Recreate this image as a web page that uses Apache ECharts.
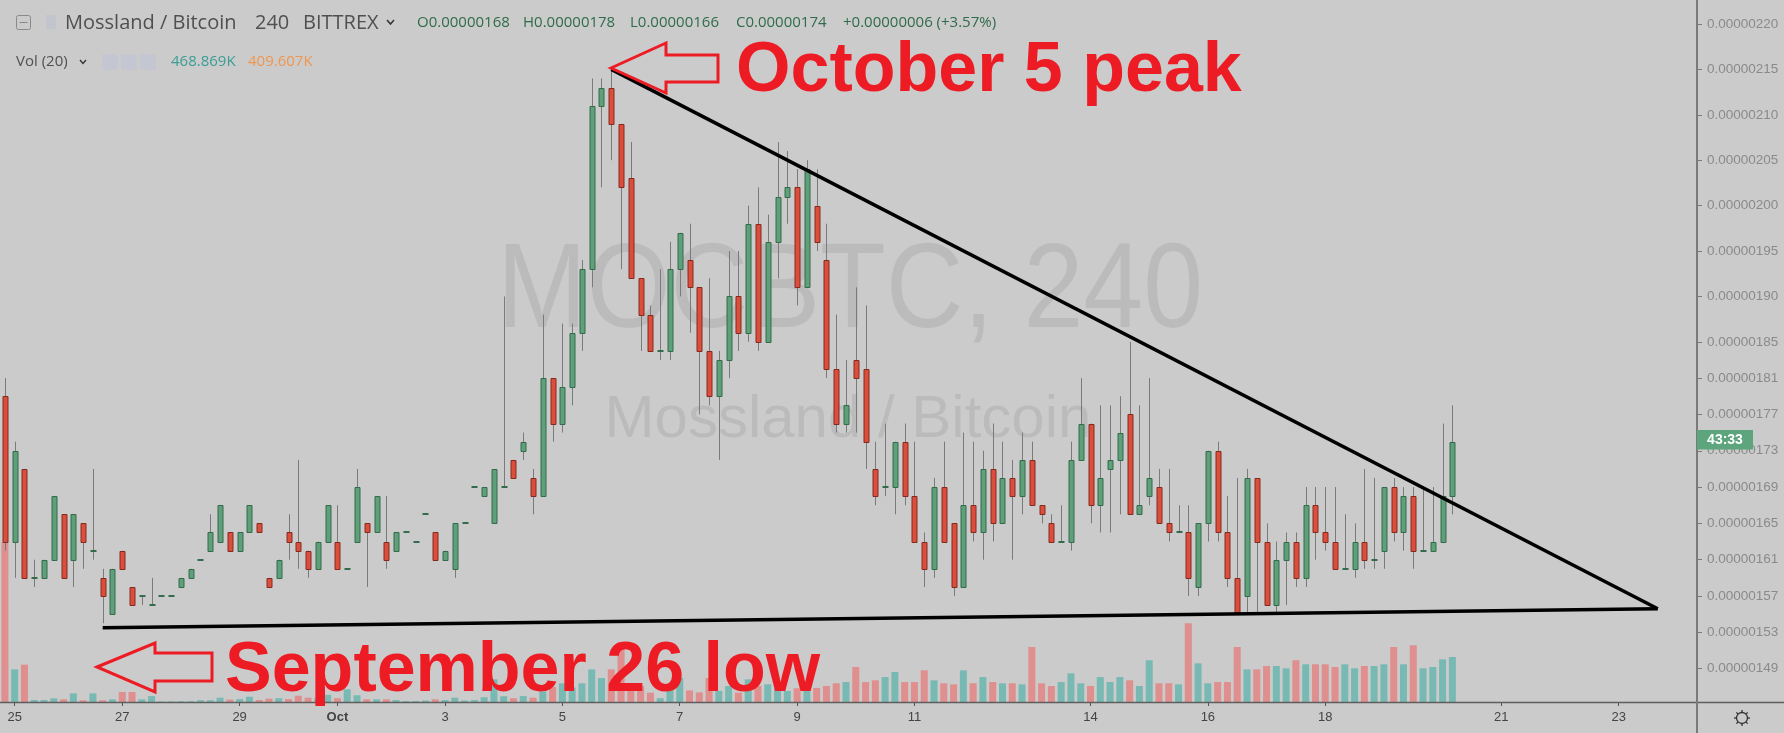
<!DOCTYPE html>
<html><head><meta charset="utf-8">
<script src="https://cdn.jsdelivr.net/npm/echarts@6/dist/echarts.min.js"></script>
<style>html,body{margin:0;padding:0;background:#cbcbcb;overflow:hidden}#c{width:1784px;height:733px}</style>
</head><body><div id="c"></div>
<script>
// ---- data (prices in satoshi, 1e-8 BTC; volume in K) ----
const openP = [179,163,171,159,159,161,166,161,165,162, 159,155,162,158,157,156,157,157,158,159, 161,162,163,164,162,164,165,159,159,164, 163,162,160,163,163,160,163,165,164,163, 162,164,163,166,164,161,160,165,169,168, 165,169,172,173,170,168,181,176,180,186, 193,211,213,209,203,192,188,184,184,193, 194,191,184,179,183,190,186,198,185,196, 201,202,191,200,194,182,176,183,182,171, 169,169,174,168,163,160,169,165,158,167, 164,171,165,170,168,172,167,165,163,163, 172,176,167,171,172,177,166,168,169,165, 164,164,158,165,173,164,159,157,170,163, 156,161,163,159,167,164,163,160,160,163, 161,162,169,164,168,162,162,163,168];
const highP = [181,174,171,161,161,168,166,166,165,171, 160,160,162,158,157,159,157,157,159,160, 161,166,167,164,164,167,165,159,161,166, 172,162,163,167,167,160,171,165,168,168, 164,164,163,166,164,162,165,165,169,169, 171,190,172,175,171,188,181,187,187,194, 214,214,215,209,207,192,189,193,196,197, 198,191,192,184,195,195,200,202,199,207, 206,204,205,204,198,188,183,191,189,174, 176,174,176,174,164,170,174,165,175,174, 173,176,174,172,175,174,167,166,167,174, 181,176,178,178,179,185,178,181,171,171, 167,167,165,173,174,168,170,171,170,165, 163,164,164,169,169,169,169,166,165,171, 170,169,170,169,169,169,169,176,178];
const lowP = [162,159,159,158,159,161,159,158,160,161, 154,155,160,156,156,156,157,157,158,159, 161,162,163,162,162,164,164,158,159,161, 160,159,160,163,160,160,163,158,164,160, 162,164,163,166,161,161,159,165,169,168, 165,169,170,172,166,168,174,175,178,184, 191,202,205,193,192,184,184,183,183,190, 186,177,178,172,181,184,185,184,185,192, 198,189,191,195,181,175,175,175,171,167, 168,166,167,163,158,159,163,157,158,163, 161,163,165,161,166,167,165,163,163,162, 172,165,164,164,166,166,166,167,165,163, 164,157,157,163,163,158,155,155,155,156, 155,156,158,158,161,162,160,160,159,160, 160,160,163,162,160,162,162,163,166];
const closeP = [163,173,159,159,161,168,159,166,163,162, 157,160,160,156,157,156,157,157,159,160, 161,164,167,162,164,167,164,158,161,163, 162,160,163,167,160,160,169,164,168,161, 164,164,163,166,161,162,165,165,169,169, 171,169,170,174,168,181,176,180,186,193, 211,213,209,202,192,188,184,184,193,197, 191,184,179,183,190,186,198,185,196,201, 202,191,204,196,182,176,178,181,174,168, 169,174,168,163,160,169,163,158,167,164, 171,165,170,168,172,167,166,163,163,172, 176,167,170,172,175,166,167,170,165,164, 164,159,165,173,164,159,155,170,163,156, 161,163,159,167,164,163,160,160,163,161, 161,169,164,168,162,162,163,168,174];
const volumeK = [1667,340,389,21,21,38,28,90,18,90, 18,28,104,104,28,62,6,6,8,8, 18,18,45,25,30,55,20,35,40,30, 65,45,40,75,40,132,70,28,28,28, 20,10,10,15,28,20,45,15,20,50, 236,60,40,62,45,110,156,195,150,195, 340,250,340,625,167,167,97,40,143,250, 120,100,250,115,167,97,236,167,184,156, 115,143,219,146,167,195,208,365,208,226, 260,313,208,208,330,226,195,184,330,195, 260,208,195,195,184,573,195,167,208,299, 195,167,260,208,260,226,167,435,195,195, 184,820,403,195,208,208,573,340,340,375, 375,351,435,393,393,393,365,393,351,375, 375,393,573,393,591,351,365,445,469];
const futureSlots = 24;
const categories = Array.from({length: openP.length + futureSlots}, (_, i) => String(i));
const dateTicks = [[1,'25'],[12,'27'],[24,'29'],[34,'Oct'],[45,'3'],[57,'5'],[69,'7'],[81,'9'],[93,'11'],[111,'14'],[123,'16'],[135,'18'],[153,'21'],[165,'23']];
const priceTicks = [220,215,210,205,200,195,190,185,181,177,173,169,165,161,157,153,149];
const trendUpper = [[62,215],[169,155.6]];
const trendLower = [[10,153.5],[169,155.6]];
const legend = {title:'Mossland / Bitcoin', tf:'240', ex:'BITTREX', o:'O0.00000168', h:'H0.00000178', l:'L0.00000166', c:'C0.00000174', chg:'+0.00000006 (+3.57%)', vol:'Vol (20)', v1:'468.869K', v2:'409.607K', timer:'43:33'};

const dateMap = {}; dateTicks.forEach(([i, t]) => dateMap[i] = t);
const BG = '#cbcbcb';
const UP = '#5f9f79', UPB = '#336b4b', DN = '#db4e3b', DNB = '#842b20', WICK = '#7a7a7a';
const VUP = '#79b9b3', VDN = '#de8f8e';

const candleData = openP.map((o, i) => [i, o, closeP[i], lowP[i], highP[i]]);

function renderCandle(params, api) {
  const i = api.value(0), o = api.value(1), c = api.value(2), l = api.value(3), h = api.value(4);
  const po = api.coord([i, o]), pc = api.coord([i, c]), pl = api.coord([i, l]), ph = api.coord([i, h]);
  const x = Math.round(po[0]);
  const up = c >= o;
  const top = Math.round(Math.min(po[1], pc[1])), bot = Math.round(Math.max(po[1], pc[1]));
  const ch = [];
  if (pl[1] - ph[1] > 0.5) ch.push({type: 'line', shape: {x1: x + 0.5, y1: ph[1], x2: x + 0.5, y2: pl[1]}, style: {stroke: WICK, lineWidth: 1}});
  if (bot - top < 1) {
    ch.push({type: 'rect', shape: {x: x - 2.5, y: top - 1, width: 6, height: 2}, style: {fill: up ? UPB : DNB}});
  } else {
    ch.push({type: 'rect', shape: {x: x - 2, y: top + 0.5, width: 5, height: bot - top}, style: {fill: up ? UP : DN, stroke: up ? UPB : DNB, lineWidth: 1}});
  }
  return {type: 'group', children: ch};
}

const RED = '#ed1c24';
function arrow(pts) { return {type: 'polygon', z: 60, shape: {points: pts}, style: {fill: 'none', stroke: RED, lineWidth: 3, lineJoin: 'miter'}}; }

const graphics = [
  // watermark
  {type: 'text', z: 0, x: 850, y: 294, scaleX: 0.89, style: {text: 'MOCBTC, 240', font: '121px "Liberation Sans"', fill: 'rgba(0,0,0,0.08)', align: 'center', verticalAlign: 'middle'}},
  {type: 'text', z: 0, x: 848, y: 420, style: {text: 'Mossland / Bitcoin', font: '60px "Liberation Sans"', fill: 'rgba(0,0,0,0.08)', align: 'center', verticalAlign: 'middle'}},
  // frame lines
  {type: 'line', z: 50, shape: {x1: 0, y1: 702.5, x2: 1784, y2: 702.5}, style: {stroke: '#5e5e5e', lineWidth: 1.5}},
  {type: 'line', z: 50, shape: {x1: 1697, y1: 0, x2: 1697, y2: 733}, style: {stroke: '#7a7a7a', lineWidth: 2}},
  // gear
  {type: 'circle', z: 50, shape: {cx: 1742, cy: 718, r: 5.5}, style: {fill: 'none', stroke: '#333', lineWidth: 1.3}},
  ...[0,1,2,3,4,5,6,7].map(k => { const a = k * Math.PI / 4; return {type: 'line', z: 50, shape: {x1: 1742 + Math.cos(a) * 5.5, y1: 718 + Math.sin(a) * 5.5, x2: 1742 + Math.cos(a) * 8, y2: 718 + Math.sin(a) * 8}, style: {stroke: '#333', lineWidth: 1.3}}; }),
  // countdown badge
  {type: 'rect', z: 70, shape: {x: 1697, y: 430, width: 56, height: 19.5}, style: {fill: '#5da57c'}},
  {type: 'text', z: 71, x: 1725, y: 440, style: {text: legend.timer, font: 'bold 14px "Liberation Sans"', fill: '#ffffff', align: 'center', verticalAlign: 'middle'}},
  // header row 1
  {type: 'rect', z: 50, shape: {x: 16.5, y: 15.5, width: 14, height: 14, r: 2}, style: {fill: 'none', stroke: '#8a8a8a', lineWidth: 1}},
  {type: 'line', z: 50, shape: {x1: 19.5, y1: 22.5, x2: 27.5, y2: 22.5}, style: {stroke: '#8a8a8a', lineWidth: 1}},
  {type: 'rect', z: 50, shape: {x: 46, y: 15, width: 10, height: 14}, style: {fill: '#c2c5ce'}},
  {type: 'text', z: 50, x: 65, y: 23, style: {text: legend.title, font: '20px "Open Sans"', fill: '#505050', verticalAlign: 'middle'}},
  {type: 'text', z: 50, x: 255, y: 23, style: {text: legend.tf, font: '20px "Open Sans"', fill: '#505050', verticalAlign: 'middle'}},
  {type: 'text', z: 50, x: 303, y: 23, style: {text: legend.ex, font: '20px "Open Sans"', fill: '#505050', verticalAlign: 'middle'}},
  {type: 'polyline', z: 50, shape: {points: [[387, 20], [390.5, 24], [394, 20]]}, style: {stroke: '#333', lineWidth: 1.5, fill: 'none'}},
  {type: 'text', z: 50, x: 417, y: 23, style: {text: legend.o, font: '15px "Open Sans"', fill: '#2f6c4b', verticalAlign: 'middle'}},
  {type: 'text', z: 50, x: 523, y: 23, style: {text: legend.h, font: '15px "Open Sans"', fill: '#2f6c4b', verticalAlign: 'middle'}},
  {type: 'text', z: 50, x: 630, y: 23, style: {text: legend.l, font: '15px "Open Sans"', fill: '#2f6c4b', verticalAlign: 'middle'}},
  {type: 'text', z: 50, x: 736, y: 23, style: {text: legend.c, font: '15px "Open Sans"', fill: '#2f6c4b', verticalAlign: 'middle'}},
  {type: 'text', z: 50, x: 843, y: 23, style: {text: legend.chg, font: '15px "Open Sans"', fill: '#2f6c4b', verticalAlign: 'middle'}},
  // header row 2
  {type: 'text', z: 50, x: 16, y: 62, style: {text: legend.vol, font: '15px "Open Sans"', fill: '#505050', verticalAlign: 'middle'}},
  {type: 'polyline', z: 50, shape: {points: [[80, 60], [83, 63.5], [86, 60]]}, style: {stroke: '#333', lineWidth: 1.3, fill: 'none'}},
  {type: 'rect', z: 50, shape: {x: 102, y: 54, width: 16, height: 16, r: 2}, style: {fill: '#c4c7d1'}},
  {type: 'rect', z: 50, shape: {x: 121, y: 54, width: 16, height: 16, r: 2}, style: {fill: '#c4c7d1'}},
  {type: 'rect', z: 50, shape: {x: 140, y: 54, width: 16, height: 16, r: 2}, style: {fill: '#c4c7d1'}},
  {type: 'text', z: 50, x: 171, y: 62, style: {text: legend.v1, font: '15px "Open Sans"', fill: '#3a9e93', verticalAlign: 'middle'}},
  {type: 'text', z: 50, x: 248, y: 62, style: {text: legend.v2, font: '15px "Open Sans"', fill: '#f0964f', verticalAlign: 'middle'}},
  // annotations
  arrow([[611, 68], [666, 43], [666, 55], [718, 55], [718, 82], [666, 82], [666, 93]]),
  {type: 'text', z: 60, x: 736, y: 72, style: {text: 'October 5 peak', font: 'bold 70px "Liberation Sans"', fill: RED, verticalAlign: 'middle'}},
  arrow([[97, 667], [155, 643], [155, 653], [212, 653], [212, 681], [155, 681], [155, 692]]),
  {type: 'text', z: 60, x: 225, y: 672, style: {text: 'September 26 low', font: 'bold 70px "Liberation Sans"', fill: RED, verticalAlign: 'middle'}}
];

const chart = echarts.init(document.getElementById('c'), null, {renderer: 'canvas'});
chart.setOption({
  backgroundColor: BG,
  animation: false,
  grid: {left: 0, top: 0, width: 1692, height: 702, containLabel: false},
  xAxis: {
    type: 'category', data: categories, boundaryGap: true,
    axisLine: {show: false},
    axisTick: {show: true, alignWithLabel: true, length: 4, interval: (idx) => dateMap[idx] !== undefined, lineStyle: {color: '#555'}},
    axisLabel: {
      interval: (idx) => dateMap[idx] !== undefined, margin: 9, color: '#444', fontSize: 13, fontFamily: '"Liberation Sans"',
      formatter: (v) => { const t = dateMap[+v]; return t === 'Oct' ? '{b|Oct}' : (t || ''); },
      rich: {b: {fontWeight: 'bold', fontSize: 13, color: '#444', fontFamily: '"Liberation Sans"'}}
    },
    splitLine: {show: false}
  },
  yAxis: [
    {
      type: 'value', position: 'right', offset: 5, min: 145.33, max: 222.643, scale: true,
      axisLine: {show: false},
      axisTick: {show: true, length: 5, customValues: priceTicks, lineStyle: {color: '#7a7a7a'}},
      axisLabel: {customValues: priceTicks, margin: 10, color: '#8a8a8a', fontSize: 13.5, fontFamily: '"Liberation Sans"', formatter: (v) => (v / 1e8).toFixed(8)},
      splitLine: {show: false}
    },
    {type: 'value', min: 0, max: 7315, show: false, splitLine: {show: false}}
  ],
  series: [
    {
      type: 'bar', yAxisIndex: 1, barWidth: 7, z: 1, data: volumeK,
      itemStyle: {color: (p) => closeP[p.dataIndex] >= openP[p.dataIndex] ? VUP : VDN}
    },
    {type: 'custom', z: 3, renderItem: renderCandle, data: candleData, encode: {x: 0, y: [1, 2, 3, 4]}},
    {type: 'line', z: 4, data: trendUpper, symbol: 'none', lineStyle: {color: '#000', width: 3.5}},
    {type: 'line', z: 4, data: trendLower, symbol: 'none', lineStyle: {color: '#000', width: 3.5}}
  ],
  graphic: graphics
});
</script></body></html>
